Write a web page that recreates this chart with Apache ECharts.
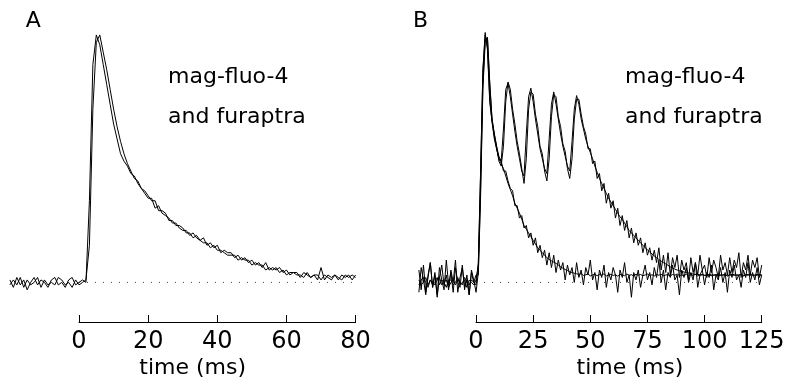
<!DOCTYPE html>
<html><head><meta charset="utf-8">
<script src="https://cdn.jsdelivr.net/npm/echarts/dist/echarts.min.js"></script>
<style>html,body{margin:0;padding:0;background:#fff}#c{width:800px;height:388px}</style>
</head><body><div id="c"></div>
<script>
// ---- Panel A: sampled every 1 ms starting at -20 ms (values in % of peak)
const A_T0 = -20, A_DT = 1;
const A_magfluo4 = [
  1, -2, 2, -1, 1, -3, 0, 2, -1, 1,
  0, -2, 1, 2, -1, 0, -2, 1, 2, -1,
  0, 1, 0, 33, 88, 100, 96, 88, 80, 72,
  64, 58, 52, 49, 47, 44, 43, 40, 38, 36,
  34, 34, 30, 31, 28, 27, 26, 24, 24, 22,
  21, 21, 19, 20, 18, 17, 18, 15, 16, 14,
  15, 12, 13, 12, 12, 10, 11, 9, 10, 8,
  9, 7, 8, 6, 8, 5, 6, 5, 6, 4,
  5, 3, 4, 4, 2, 4, 3, 2, 3, 1,
  6, 1, 3, 2, 3, 1, 3, 2, 3, 1,
  3
];
const A_furaptra = [
  -1, 1, -1, 2, -2, 1, -1, 0, 2, -2,
  1, -1, 0, -1, 2, 1, -1, 0, -2, 1,
  -1, 0, 1, 15, 70, 97, 100, 93, 86, 78,
  70, 63, 57, 52, 48, 45, 42, 41, 38, 37,
  35, 33, 33, 29, 29, 28, 25, 25, 23, 23,
  22, 20, 20, 18, 19, 17, 16, 16, 14, 15,
  13, 13, 12, 11, 11, 11, 9, 10, 9, 9,
  7, 8, 7, 7, 5, 6, 5, 6, 4, 5,
  3, 4, 4, 3, 3, 2, 4, 2, 3, 3,
  1, 3, 2, 1, 3, 2, 1, 3, 2, 3,
  2
];
// ---- Panel B: sampled every 1 ms starting at -25 ms
const B_T0 = -25, B_DT = 1;
const B_single_magfluo4 = [
  1, -1, 0, 2, -1, 1, 0, -1, 1, 2,
  -1, 0, 1, -2, 0, 1, -1, 1, 0, -1,
  2, 0, -1, 1, 0, -1, 8, 45, 85, 100,
  95, 74, 65, 59, 54, 50, 48, 46, 43, 40,
  37.5, 35, 32, 30, 28, 25.5, 23, 21.5, 20, 18.5,
  17, 15.5, 14, 13, 12, 11, 10, 9.3, 8.7, 8.2,
  7.7, 7, 6.3, 5.7, 5.2, 4.8, 4.3, 4, 3.7, 3.5,
  3.2, 3.6, 2.8, 3.1, 3.4, 2.6, 3, 3.3, 2.7, 3.2,
  2.9, 3.5, 2.6, 3, 3.3, 2.8, 3.1, 2.5, 3.2, 3,
  2.7, 3.4, 2.9, 3.1, 2.6, 3.3, 2.9, 3.2, 2.7, 3,
  3.4, 2.8, 3.1, 2.6, 3.2, 2.9, 3.3, 2.7, 3, 3.1,
  2.6, 3.2, 2.9, 3.4, 2.8, 3, 2.7, 3.3, 2.9, 3.1,
  2.8, 3.3, 2.6, 3, 3.2, 2.9, 2.7, 3.3, 3, 2.8,
  3.2, 2.7, 3.1, 2.9, 3.4, 2.6, 3, 3.2, 2.8, 3.1,
  2.9, 3.3, 2.7, 3, 3.2, 2.8, 3.1, 2.6, 3, 3.2,
  2.9
];
const B_single_furaptra = [
  5, -3, 7, -4, 2, 8, -2, 3, -5, 6,
  1, -3, 9, -1, 4, -4, 6, 0, -2, 7,
  -3, 3, -5, 5, 1, -4, 4, 38, 80, 98,
  99, 80, 66, 60, 55, 51, 49, 45, 45, 41,
  38, 37, 31, 31, 26, 27, 22, 23, 18, 20,
  15, 18, 12, 15, 10, 13, 7, 12, 6, 11,
  4, 9, 5, 8, 1, 7, 3, 6, 0, 8,
  2, 5, -1, 6, 3, 9, 1, 4, -3, 5,
  2, 7, -2, 4, 1, 6, 3, -4, 5, 2,
  8, 0, 3, -6, 4, 1, 5, -2, 3, 7,
  1, 4, -1, 6, 2, 9, 0, 5, -3, 4,
  2, 7, 1, 3, -5, 5, 2, 6, 0, 4,
  1, 8, -2, 3, 5, -1, 4, 2, 7, -3,
  3, 1, 6, 0, 4, -4, 5, 2, 7, 1,
  3, -2, 5, 2, 8, 0, 4, 1, 6, -1,
  3
];
const B_train_magfluo4 = [
  -1, 1, 2, 0, -2, 1, -1, 0, 2, -1,
  1, 0, -2, 1, 1, -1, 0, 2, -1, 0,
  1, -2, 1, 0, -1, 1, 7, 44, 86, 101,
  94, 73, 65, 58, 54, 50, 49, 62, 78, 80.5,
  75, 68, 61, 55, 50, 45, 43, 60, 75, 78.5,
  73, 66, 60, 54, 50, 46, 44, 58, 72, 77,
  72, 66, 60, 55, 51, 47, 45, 57, 70, 75.5,
  72, 66, 62, 58, 55, 52.5, 50, 47, 44.5, 42,
  40, 38, 36, 34, 32.5, 31, 29.5, 28, 26.5, 25.5,
  24, 22.5, 21, 20, 19, 18, 17, 16, 15, 14,
  13.2, 12.3, 11.5, 10.7, 10, 9.3, 8.6, 8, 7.5, 6.9,
  6.3, 5.8, 5.4, 5, 4.7, 4.4, 4.2, 4, 3.8, 3.6,
  3.4, 3.2, 3.3, 2.9, 3.1, 2.8, 3.2, 3, 2.7, 3.1,
  2.9, 3.3, 2.8, 3, 3.2, 2.7, 3.1, 2.9, 3.3, 2.8,
  3, 3.2, 2.7, 3.1, 2.9, 3.3, 2.8, 3, 3.2, 2.9,
  3
];
const B_train_furaptra = [
  -4, 6, 1, -5, 3, 8, -2, 4, -6, 2,
  7, -1, 3, -3, 5, 0, 9, -4, 2, 6,
  -2, 1, -5, 4, 0, 3, 3, 35, 78, 97,
  99, 81, 66, 60, 55, 49, 47, 55, 73, 81,
  78, 70, 64, 57, 52, 46, 40, 50, 70, 77,
  76, 68, 63, 55, 52, 45, 41, 50, 67, 76,
  75, 67, 63, 56, 53, 46, 42, 50, 66, 74,
  74, 68, 63, 60, 54, 54, 48, 49, 42, 44,
  37, 40, 32, 36, 30, 33, 26, 30, 23, 27,
  21, 25, 18, 22, 16, 20, 15, 18, 12, 16,
  11, 14, 9, 13, 8, 14, 5, 11, 4, 12,
  3, 10, 6, 11, 2, 9, 5, 8, 1, 10,
  4, 8, 3, 11, 5, 7, 2, 10, 4, 9,
  6, 2, 11, 5, 8, 3, 10, 4, 9, 6,
  12, 2, 8, 5, 11, 3, 9, 6, 10, 2,
  7
];
const A_ticks = { min: 0, max: 80, interval: 20 };
const B_ticks = { min: 0, max: 125, interval: 25 };
const A_baseline = [[0, 0], [80, 0]];
const B_baseline = [[0, 0], [125, 0]];
const panelLabels = ['A', 'B'];
const dyeLine1 = 'mag-fluo-4';
const dyeLine2 = 'and furaptra';
const xTitle = 'time (ms)';

function pairs(arr, t0, dt) { return arr.map((v, i) => [t0 + i * dt, v]); }

const FONT = 'DejaVu Sans';
const Y = { min: -16, max: 102 };
const gridTop = 30, gridH = 292;

const chart = echarts.init(document.getElementById('c'), null, { renderer: 'canvas' });

function dataX(i, min, max) {
  return { gridIndex: i, type: 'value', min, max, show: false };
}
function axisX(i, t) {
  return {
    gridIndex: i, type: 'value', min: t.min, max: t.max, interval: t.interval, position: 'bottom',
    axisLine: { show: true, onZero: false, lineStyle: { color: '#000', width: 1 } },
    axisTick: { show: true, inside: true, length: 7, lineStyle: { color: '#000', width: 1 } },
    axisLabel: { show: true, color: '#000', fontSize: 24, fontFamily: FONT, margin: 8, showMinLabel: true, showMaxLabel: true },
    splitLine: { show: false }
  };
}
function yAx(i) { return { gridIndex: i, type: 'value', min: Y.min, max: Y.max, show: false }; }
function trace(data, xi, w) {
  return { type: 'line', xAxisIndex: xi, yAxisIndex: xi, data, showSymbol: false, symbol: 'none',
    lineStyle: { color: '#000', width: w }, silent: true, animation: false, z: 3 };
}
function dotted(data, xi) {
  return { type: 'line', xAxisIndex: xi, yAxisIndex: xi, data, showSymbol: false, symbol: 'none',
    lineStyle: { color: '#444', width: 1, type: [1, 7] }, silent: true, animation: false, z: 2 };
}
function txt(text, x, y, size, align) {
  return { type: 'text', x, y, silent: true,
    style: { text, fill: '#000', font: size + 'px "' + FONT + '"', align, verticalAlign: 'middle',
      textAlign: align, textVerticalAlign: 'middle' } };
}

chart.setOption({
  backgroundColor: '#fff',
  animation: false,
  grid: [
    { left: 9.9, width: 345.7, top: gridTop, height: gridH },
    { left: 79, width: 276.6, top: gridTop, height: gridH },
    { left: 418.9, width: 342.8, top: gridTop, height: gridH },
    { left: 476, width: 285.7, top: gridTop, height: gridH }
  ],
  xAxis: [dataX(0, -20, 80), axisX(1, A_ticks), dataX(2, -25, 125), axisX(3, B_ticks)],
  yAxis: [yAx(0), yAx(1), yAx(2), yAx(3)],
  series: [
    dotted(A_baseline, 0),
    trace(pairs(A_magfluo4, A_T0, A_DT), 0, 1),
    trace(pairs(A_furaptra, A_T0, A_DT), 0, 1),
    dotted(B_baseline, 2),
    trace(pairs(B_single_magfluo4, B_T0, B_DT), 2, 1),
    trace(pairs(B_single_furaptra, B_T0, B_DT), 2, 1),
    trace(pairs(B_train_magfluo4, B_T0, B_DT), 2, 1),
    trace(pairs(B_train_furaptra, B_T0, B_DT), 2, 1)
  ],
  graphic: [
    txt(panelLabels[0], 33.3, 21, 22, 'center'),
    txt(panelLabels[1], 420.5, 21, 22, 'center'),
    txt(dyeLine1, 168, 77, 22, 'left'),
    txt(dyeLine2, 168, 117, 22, 'left'),
    txt(dyeLine1, 625, 77, 22, 'left'),
    txt(dyeLine2, 625, 117, 22, 'left'),
    txt(xTitle, 192.7, 368, 22, 'center'),
    txt(xTitle, 630, 368, 22, 'center')
  ]
});
</script></body></html>
